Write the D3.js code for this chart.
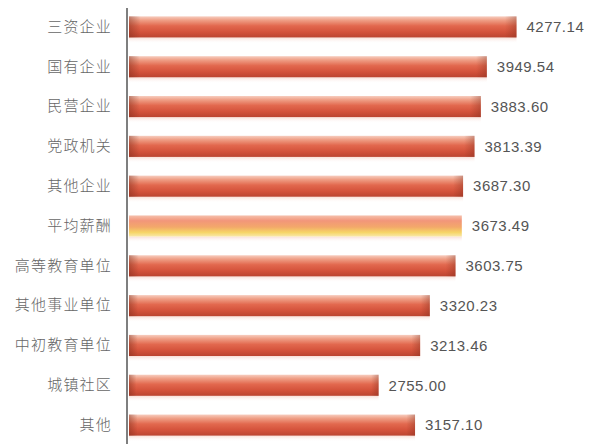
<!DOCTYPE html>
<html><head><meta charset="utf-8">
<script src="https://cdn.jsdelivr.net/npm/d3@7"></script>
<style>body{margin:0;background:#fff;}svg{display:block;}</style>
</head><body>
<script>
const categories = ["三资企业","国有企业","民营企业","党政机关","其他企业","平均薪酬","高等教育单位","其他事业单位","中初教育单位","城镇社区","其他"];
const values = [4277.14,3949.54,3883.60,3813.39,3687.30,3673.49,3603.75,3320.23,3213.46,2755.00,3157.10];
const valueLabels = ["4277.14","3949.54","3883.60","3813.39","3687.30","3673.49","3603.75","3320.23","3213.46","2755.00","3157.10"];
const highlight = "平均薪酬";

const W = 592, H = 444;
const svg = d3.select("body").append("svg").attr("width", W).attr("height", H);
const defs = svg.append("defs");

const red = defs.append("linearGradient").attr("id","gRed").attr("x1",0).attr("y1",0).attr("x2",0).attr("y2",1);
[[0,"#f7cdbf"],[0.18,"#ef9f86"],[0.45,"#e2684e"],[0.75,"#d3513a"],[1,"#bb4430"]].forEach(s=>red.append("stop").attr("offset",s[0]).attr("stop-color",s[1]));
const gold = defs.append("linearGradient").attr("id","gGold").attr("x1",0).attr("y1",0).attr("x2",0).attr("y2",1);
[[0,"#f5c0ac"],[0.25,"#f2967a"],[0.55,"#f3a86a"],[0.8,"#f6d466"],[1,"#f9e8a8"]].forEach(s=>gold.append("stop").attr("offset",s[0]).attr("stop-color",s[1]));
const shade = defs.append("linearGradient").attr("id","gShade").attr("x1",0).attr("y1",0).attr("x2",1).attr("y2",0);
[[0,"#7a2a1a",0.45],[0.03,"#7a2a1a",0],[0.97,"#7a2a1a",0],[1,"#7a2a1a",0.35]].forEach(s=>shade.append("stop").attr("offset",s[0]).attr("stop-color",s[1]).attr("stop-opacity",s[2]));
const glow = defs.append("linearGradient").attr("id","gGlow").attr("x1",0).attr("y1",0).attr("x2",0).attr("y2",1);
[[0,"#f3c2b4",0.55],[1,"#ffffff",0]].forEach(s=>glow.append("stop").attr("offset",s[0]).attr("stop-color",s[1]).attr("stop-opacity",s[2]));

const x = d3.scaleLinear().domain([0,5000]).range([129,582]);
const y = d3.scaleBand().domain(categories).range([7,445]).paddingInner(0.47).paddingOuter(0.235);

const data = categories.map((c,i)=>({c, v:values[i], t:valueLabels[i]}));

const g = svg.append("g");
g.selectAll("rect.glow").data(data).join("rect").attr("class","glow")
  .attr("x", x(0)).attr("y", d=>y(d.c)+y.bandwidth())
  .attr("width", d=>x(d.v)-x(0)).attr("height", 6)
  .attr("fill","url(#gGlow)");
g.selectAll("rect.bar").data(data).join("rect").attr("class","bar")
  .attr("x", x(0)).attr("y", d=>y(d.c))
  .attr("width", d=>x(d.v)-x(0)).attr("height", y.bandwidth())
  .attr("fill", d=>d.c===highlight?"url(#gGold)":"url(#gRed)");
g.selectAll("rect.shade").data(data.filter(d=>d.c!==highlight)).join("rect").attr("class","shade")
  .attr("x", x(0)).attr("y", d=>y(d.c))
  .attr("width", d=>x(d.v)-x(0)).attr("height", y.bandwidth())
  .attr("fill","url(#gShade)");

g.selectAll("text.val").data(data).join("text").attr("class","val")
  .attr("x", d=>x(d.v)+10).attr("y", d=>y(d.c)+y.bandwidth()/2)
  .attr("dy","0.35em")
  .attr("font-family","'Liberation Sans', Arial, sans-serif").attr("font-size",15)
  .attr("letter-spacing",0.5)
  .attr("fill","#555").text(d=>d.t);

const axis = d3.axisLeft(y).tickSize(0).tickPadding(15);
const ax = svg.append("g").attr("transform","translate(127,0)").call(axis);
ax.select(".domain").attr("stroke","#555").attr("stroke-width",1.5).attr("d","M0,8V444");
ax.selectAll("text").attr("font-family","'Noto Sans CJK SC', sans-serif").attr("font-size",15)
  .attr("letter-spacing",1.2)
  .attr("fill","#666").attr("font-weight",300);
</script>
</body></html>
